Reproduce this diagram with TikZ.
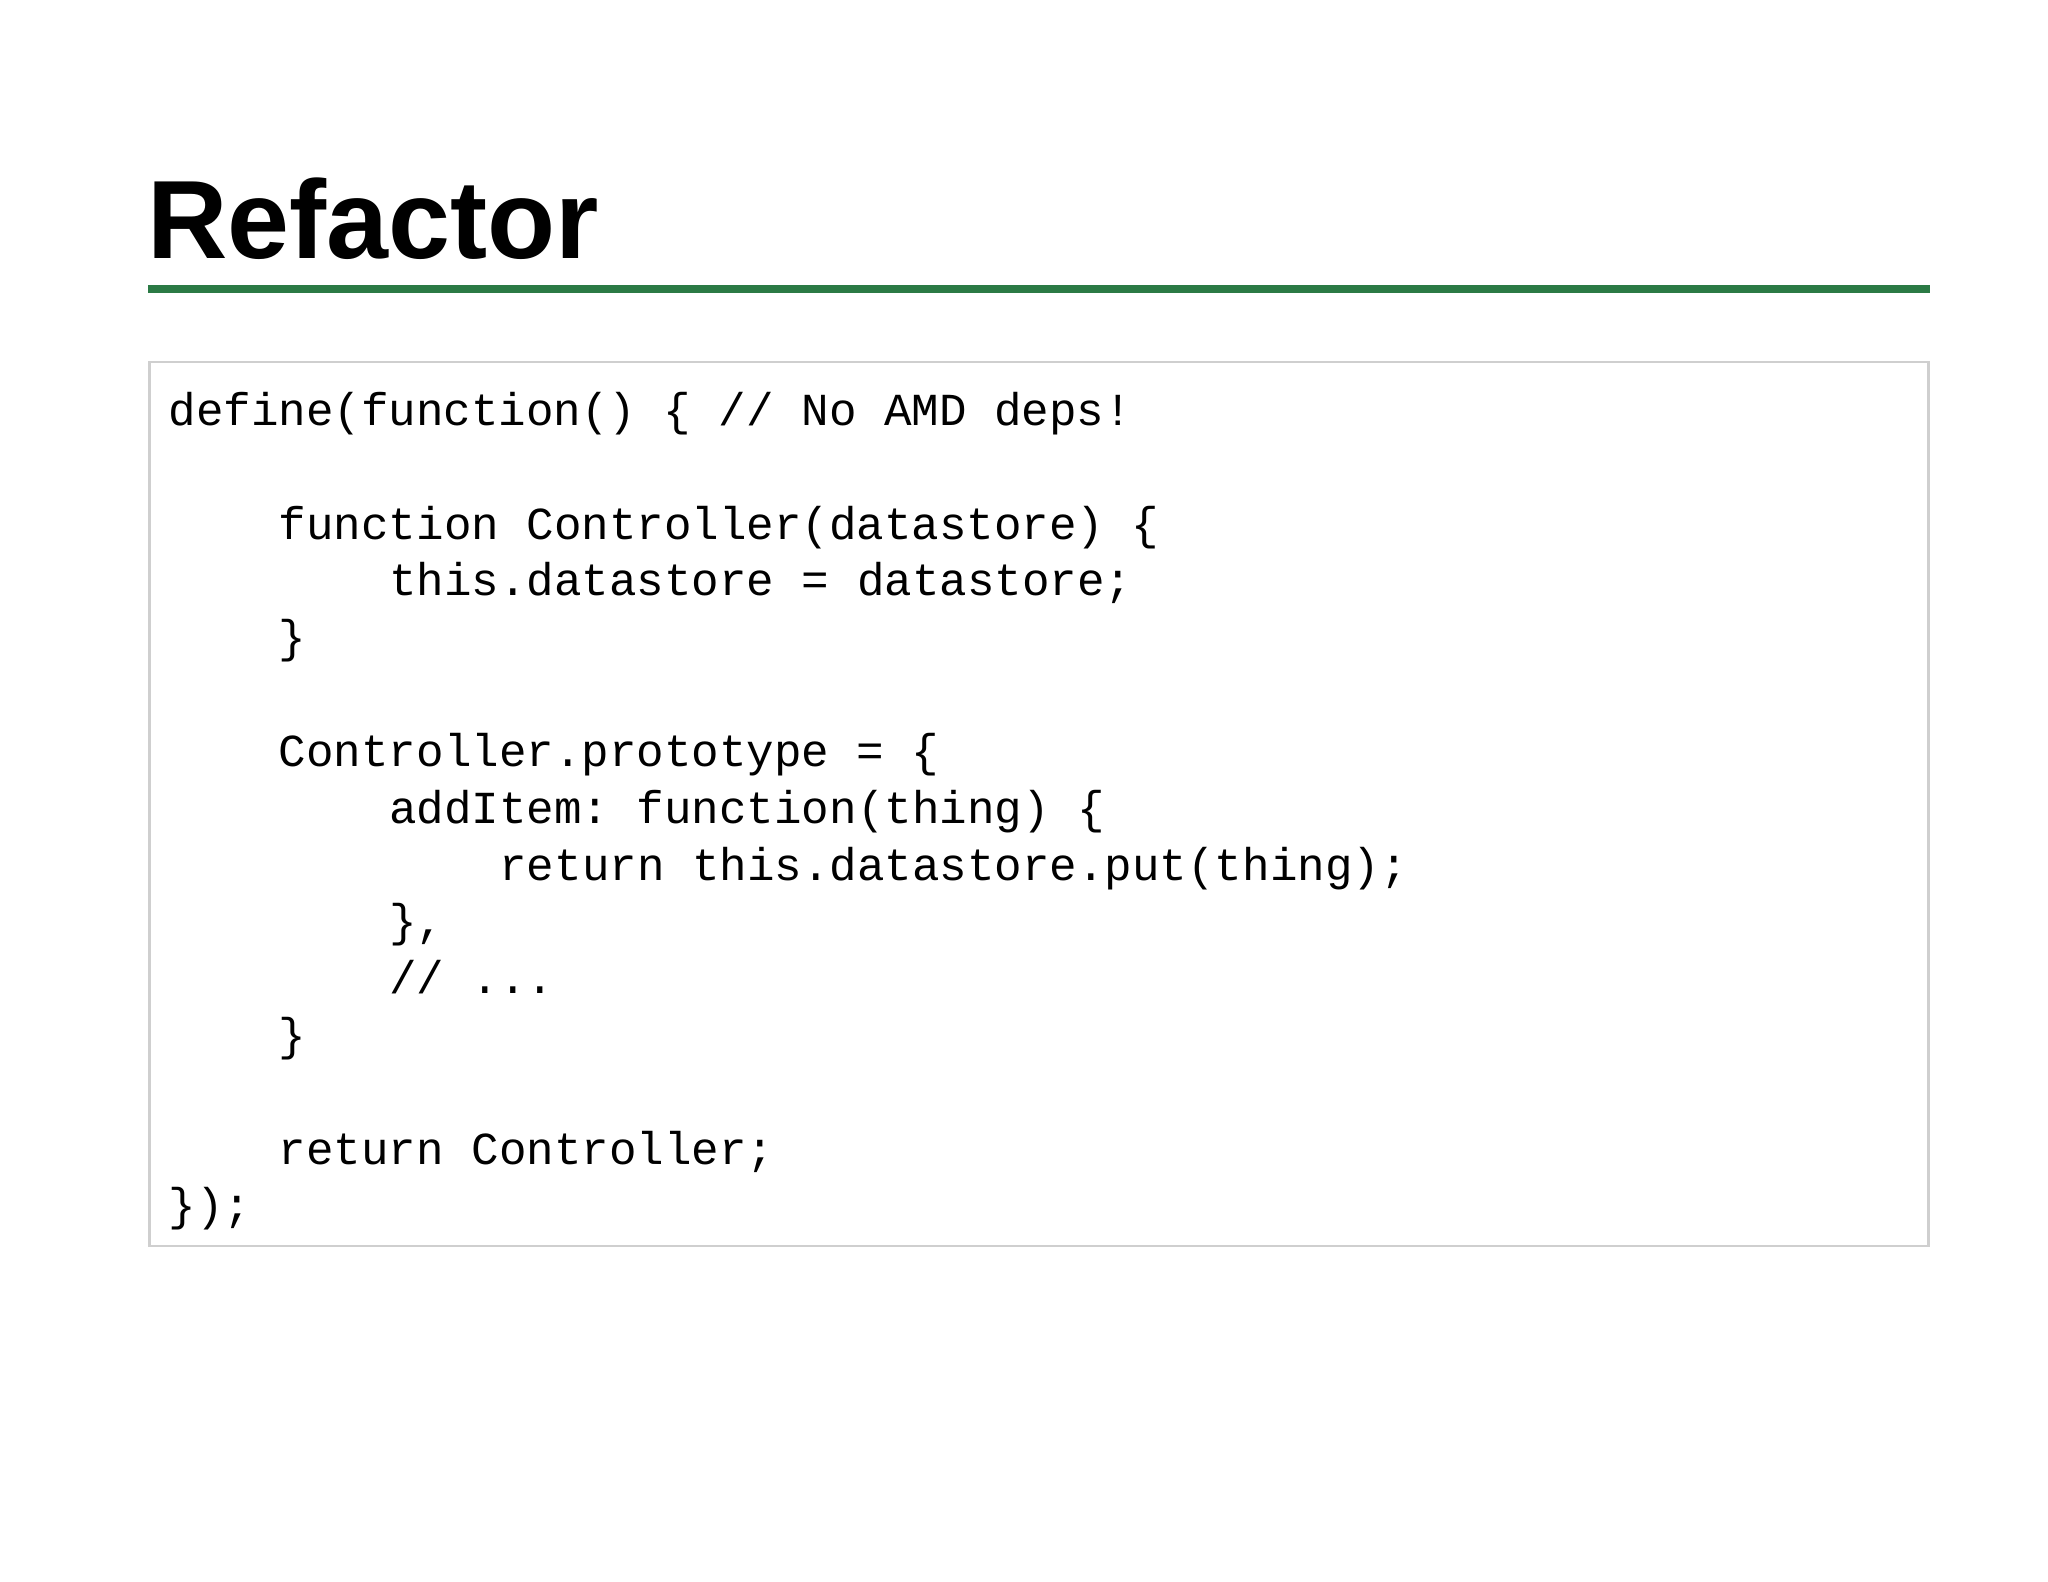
\documentclass[tikz,border=0pt]{standalone}
\usepackage{fontspec}
\setmainfont{Liberation Sans}
\setmonofont{Liberation Mono}
\definecolor{rulegreen}{HTML}{2B7A45}
\definecolor{boxgray}{HTML}{CFCFCF}
\begin{document}
\begin{tikzpicture}[x=1pt,y=-1pt,
  codeline/.style={anchor=base west,inner sep=0pt,font=\fontsize{34.6}{40}\ttfamily}]
\useasboundingbox[fill=white] (0,0) rectangle (1545,1193);
\node[anchor=base west,inner sep=0pt,font=\fontsize{84}{90}\bfseries] (title) at (111,195) {Refactor};
\draw[rulegreen,line width=6] (112,218) -- (1456,218);
\draw[boxgray,line width=2] (113,273) rectangle (1455,940);
\def\L#1#2#3{\node[codeline] (l#1) at ({127+20.8*#2},{321+42.86*#1}) {#3};}
\L{0}{0}{define(function() \{ // No AMD deps!}
\L{2}{4}{function Controller(datastore) \{}
\L{3}{8}{this.datastore = datastore;}
\L{4}{4}{\}}
\L{6}{4}{Controller.prototype = \{}
\L{7}{8}{addItem: function(thing) \{}
\L{8}{12}{return this.datastore.put(thing);}
\L{9}{8}{\},}
\L{10}{8}{// ...}
\L{11}{4}{\}}
\L{13}{4}{return Controller;}
\L{14}{0}{\});}
\end{tikzpicture}
\end{document}
